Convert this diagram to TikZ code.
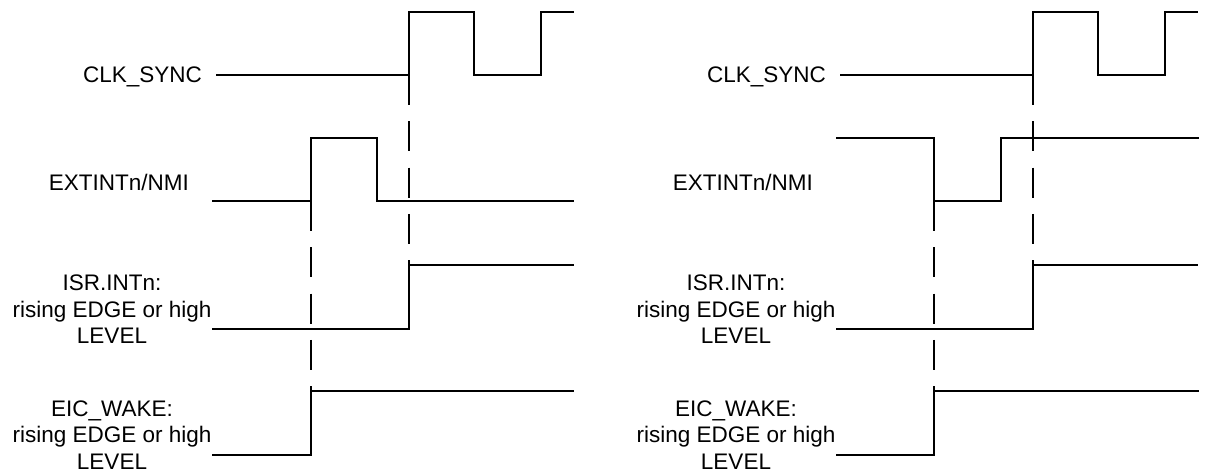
\documentclass[tikz,border=0pt]{standalone}
\usepackage{fontspec}
\setmainfont{Liberation Sans}
\begin{document}
\begin{tikzpicture}[x=1pt,y=-1pt,
  sig/.style={line width=2.4pt,line cap=butt,line join=miter},
  guide/.style={line width=2.3pt,dash pattern=on 30pt off 16.3pt},
  lbl/.style={inner sep=0pt,font=\fontsize{22.5}{26.5}\selectfont,align=center}]
\useasboundingbox (0,0) rectangle (1208,472);
\foreach \p/\o in {L/0,R/624}{
  % labels
  \node[lbl,anchor=base east] (clk\p) at (202+\o,82.5) {CLK\_SYNC};
  \node[lbl,anchor=base east] (ext\p) at (189+\o,190.5) {EXTINTn/NMI};
  \node[lbl,anchor=base] (isr\p) at (112+\o,343.5) {ISR.INTn:\\rising EDGE or high\\LEVEL};
  \node[lbl,anchor=base] (eic\p) at (112+\o,469) {EIC\_WAKE:\\rising EDGE or high\\LEVEL};
  % CLK_SYNC
  \coordinate (c0\p) at (216+\o,75);
  \coordinate (c1\p) at (409+\o,75);
  \coordinate (cend\p) at (574+\o,12);
  \draw[sig] (c0\p) -- (c1\p) |- (474+\o,12) |- (541+\o,75) |- (cend\p);
  % ISR.INTn
  \coordinate (i0\p) at (212+\o,329);
  \coordinate (i1\p) at (409+\o,265);
  \coordinate (iend\p) at (574+\o,265);
  \draw[sig] (i0\p) -| (i1\p) -- (iend\p);
}
% EXTINTn/NMI left
\coordinate (e0L) at (212,201);
\coordinate (e1L) at (311,201);
\coordinate (eendL) at (574,201);
\draw[sig] (e0L) -- (e1L) |- (377,138) |- (eendL);
% EXTINTn/NMI right
\coordinate (e0R) at (836,138);
\coordinate (e1R) at (934,201);
\coordinate (eendR) at (1199,138);
\draw[sig] (e0R) -| (e1R) -| (1001,138) -- (eendR);
% EIC_WAKE
\coordinate (w0L) at (212,455);
\coordinate (w1L) at (311,391);
\coordinate (wendL) at (574,391);
\draw[sig] (w0L) -| (w1L) -- (wendL);
\coordinate (w0R) at (836,455);
\coordinate (w1R) at (934,391);
\coordinate (wendR) at (1199,391);
\draw[sig] (w0R) -| (w1R) -- (wendR);
% dashed guides
\draw[guide] (c1L) -- (i1L);
\draw[guide] (c1R) -- (i1R);
\draw[guide] (e1L) -- (w1L);
\draw[guide] (e1R) -- (w1R);
\end{tikzpicture}
\end{document}
